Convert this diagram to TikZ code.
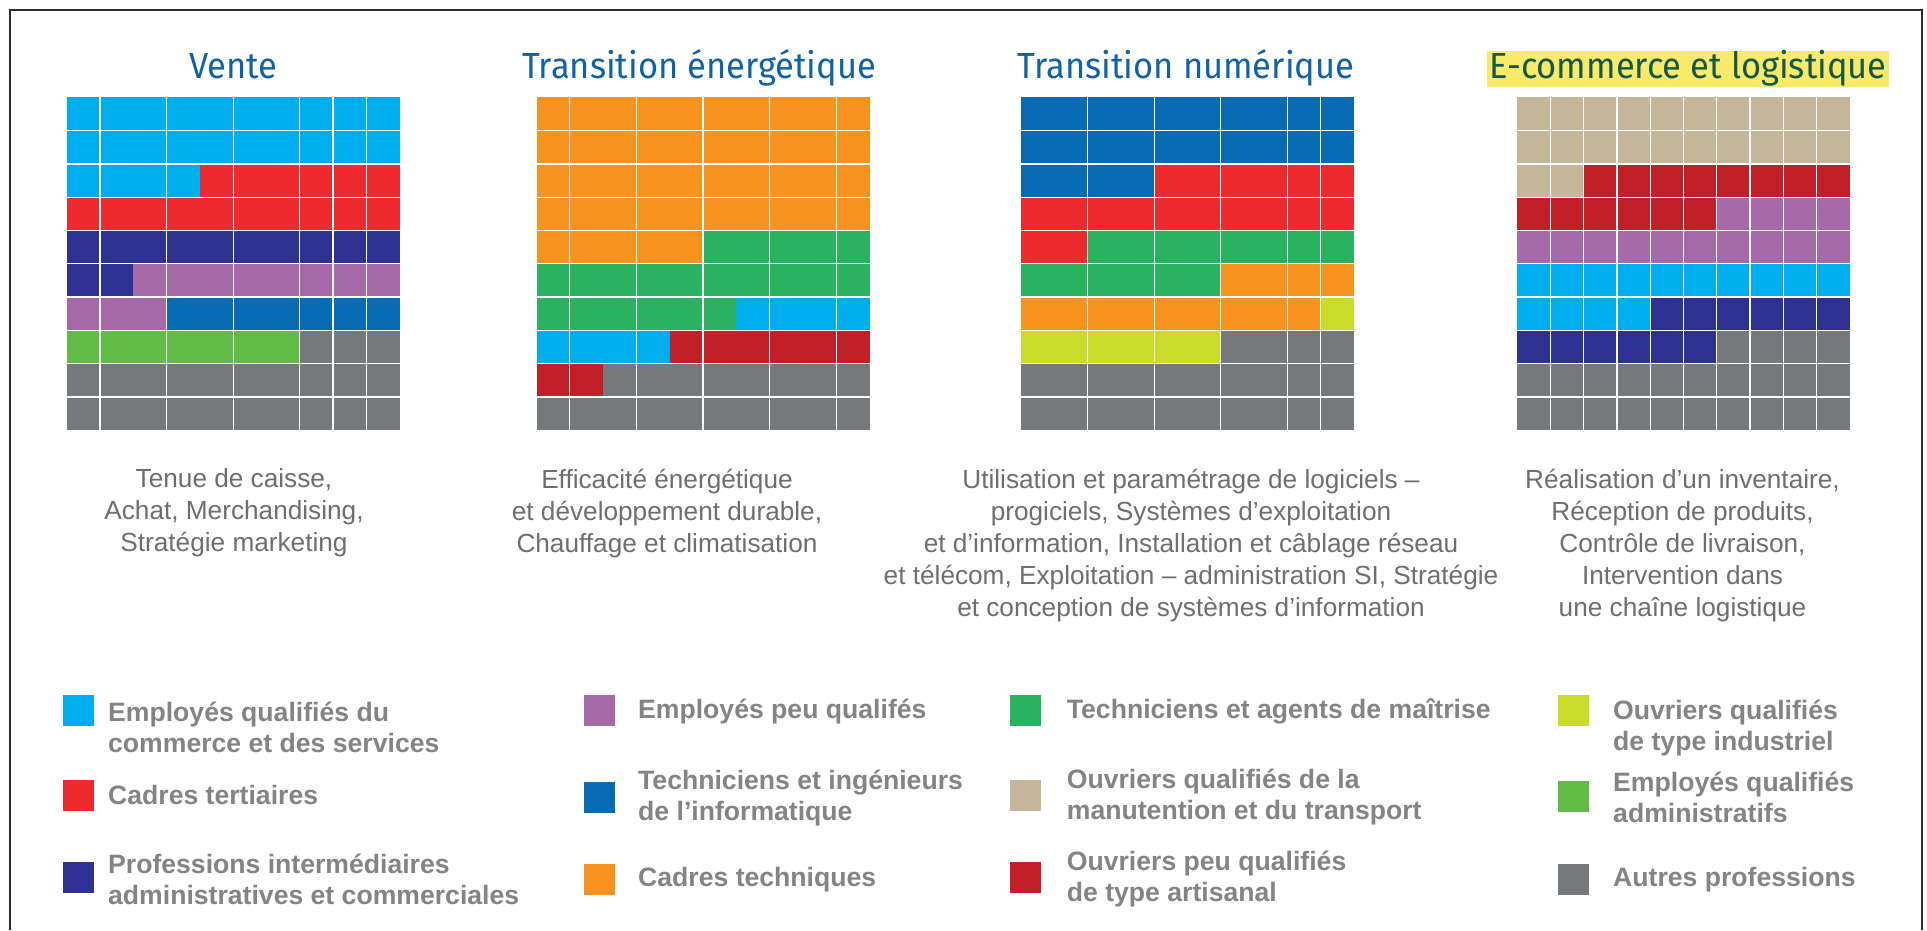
\documentclass[tikz,border=0pt]{standalone}
\usepackage{fontspec}
\newfontfamily\titlefont[FakeStretch=0.95]{Fira Sans}
\newfontfamily\descfont{Liberation Sans}
\definecolor{ccyan}{RGB}{0,174,239}
\definecolor{cred}{RGB}{237,42,46}
\definecolor{cnavy}{RGB}{46,49,146}
\definecolor{cpurple}{RGB}{166,106,168}
\definecolor{cblue}{RGB}{8,108,180}
\definecolor{corange}{RGB}{247,146,30}
\definecolor{cgreen}{RGB}{41,178,95}
\definecolor{clime}{RGB}{203,219,42}
\definecolor{clgreen}{RGB}{98,187,71}
\definecolor{cgray}{RGB}{118,121,124}
\definecolor{cbeige}{RGB}{196,182,155}
\definecolor{cdred}{RGB}{193,32,40}
\definecolor{titleblue}{RGB}{16,98,168}
\definecolor{titleteal}{RGB}{20,88,72}
\definecolor{hlyellow}{RGB}{250,234,105}
\definecolor{descgray}{RGB}{110,110,112}
\definecolor{leggray}{RGB}{132,132,134}
\definecolor{framecol}{RGB}{45,45,45}
\begin{document}
\begin{tikzpicture}[x=1pt,y=-1pt,
  gridline/.style={white,line width=1.3pt},
  title/.style={anchor=base,inner sep=0pt,font=\titlefont\fontsize{36.3}{40}\selectfont,text=titleblue},
  desc/.style={anchor=north,inner sep=0pt,align=center,font=\descfont\fontsize{26.2}{32}\selectfont,text=descgray},
  legsq/.style={anchor=north west,inner sep=0pt,minimum width=31pt,minimum height=31pt},
  legtxt/.style={anchor=west,inner sep=0pt,align=left,font=\descfont\bfseries\fontsize{26.6}{31}\selectfont,text=leggray}]
\useasboundingbox (0,0) rectangle (1927,930);
\fill[white] (0,0) rectangle (1927,930);
\draw[framecol,line width=2pt] (10,930) -- (10,10) -- (1922,10) -- (1922,930);

% ---- Grid 1: Vente
\begin{scope}[shift={(66.7,97.3)},x=33.3pt,y=-33.3pt]
  \fill[ccyan] (0,0) rectangle (10,2);
  \fill[ccyan] (0,2) rectangle (4,3);
  \fill[cred] (4,2) rectangle (10,3);
  \fill[cred] (0,3) rectangle (10,4);
  \fill[cnavy] (0,4) rectangle (10,5);
  \fill[cnavy] (0,5) rectangle (2,6);
  \fill[cpurple] (2,5) rectangle (10,6);
  \fill[cpurple] (0,6) rectangle (3,7);
  \fill[cblue] (3,6) rectangle (10,7);
  \fill[clgreen] (0,7) rectangle (7,8);
  \fill[cgray] (7,7) rectangle (10,8);
  \fill[cgray] (0,8) rectangle (10,10);
  \foreach \r in {1,...,9} \draw[gridline] (0,\r) -- (10,\r);
  \foreach \c in {1,3,5,7,8,9} \draw[gridline] (\c,0) -- (\c,10);
\end{scope}

% ---- Grid 2: Transition energetique
\begin{scope}[shift={(536.5,97.3)},x=33.3pt,y=-33.3pt]
  \fill[corange] (0,0) rectangle (10,4);
  \fill[corange] (0,4) rectangle (5,5);
  \fill[cgreen] (5,4) rectangle (10,5);
  \fill[cgreen] (0,5) rectangle (10,6);
  \fill[cgreen] (0,6) rectangle (6,7);
  \fill[ccyan] (6,6) rectangle (10,7);
  \fill[ccyan] (0,7) rectangle (4,8);
  \fill[cdred] (4,7) rectangle (10,8);
  \fill[cdred] (0,8) rectangle (2,9);
  \fill[cgray] (2,8) rectangle (10,9);
  \fill[cgray] (0,9) rectangle (10,10);
  \foreach \r in {1,...,9} \draw[gridline] (0,\r) -- (10,\r);
  \foreach \c in {1,3,5,7,9} \draw[gridline] (\c,0) -- (\c,10);
\end{scope}

% ---- Grid 3: Transition numerique
\begin{scope}[shift={(1021,97.3)},x=33.3pt,y=-33.3pt]
  \fill[cblue] (0,0) rectangle (10,2);
  \fill[cblue] (0,2) rectangle (4,3);
  \fill[cred] (4,2) rectangle (10,3);
  \fill[cred] (0,3) rectangle (10,4);
  \fill[cred] (0,4) rectangle (2,5);
  \fill[cgreen] (2,4) rectangle (10,5);
  \fill[cgreen] (0,5) rectangle (6,6);
  \fill[corange] (6,5) rectangle (10,6);
  \fill[corange] (0,6) rectangle (9,7);
  \fill[clime] (9,6) rectangle (10,7);
  \fill[clime] (0,7) rectangle (6,8);
  \fill[cgray] (6,7) rectangle (10,8);
  \fill[cgray] (0,8) rectangle (10,10);
  \foreach \r in {1,...,9} \draw[gridline] (0,\r) -- (10,\r);
  \foreach \c in {2,4,6,8,9} \draw[gridline] (\c,0) -- (\c,10);
\end{scope}

% ---- Grid 4: E-commerce et logistique
\begin{scope}[shift={(1517,97.3)},x=33.3pt,y=-33.3pt]
  \fill[cbeige] (0,0) rectangle (10,2);
  \fill[cbeige] (0,2) rectangle (2,3);
  \fill[cdred] (2,2) rectangle (10,3);
  \fill[cdred] (0,3) rectangle (6,4);
  \fill[cpurple] (6,3) rectangle (10,4);
  \fill[cpurple] (0,4) rectangle (10,5);
  \fill[ccyan] (0,5) rectangle (10,6);
  \fill[ccyan] (0,6) rectangle (4,7);
  \fill[cnavy] (4,6) rectangle (10,7);
  \fill[cnavy] (0,7) rectangle (6,8);
  \fill[cgray] (6,7) rectangle (10,8);
  \fill[cgray] (0,8) rectangle (10,10);
  \foreach \r in {1,...,9} \draw[gridline] (0,\r) -- (10,\r);
  \foreach \c in {1,...,9} \draw[gridline] (\c,0) -- (\c,10);
\end{scope}

% ---- Titles
\node[title] (t1) at (233.5,78.3) {Vente};
\node[title] (t2) at (699,78.3) {Transition énergétique};
\node[title] (t3) at (1186,78.3) {Transition numérique};
\node[title,text=titleteal,fill=hlyellow,inner xsep=2pt,text height=27pt,text depth=9pt] (t4) at (1688,78.3) {E-commerce et logistique};

% ---- Descriptions
\node[desc] (d1) at (234,468.5) {Tenue de caisse,\\Achat, Merchandising,\\Stratégie marketing};
\node[desc] (d2) at (667,468.5) {Efficacité énergétique\\et développement durable,\\Chauffage et climatisation};
\node[desc] (d3) at (1191,468.5) {Utilisation et paramétrage de logiciels –\\progiciels, Systèmes d’exploitation\\et d’information, Installation et câblage réseau\\et télécom, Exploitation – administration SI, Stratégie\\et conception de systèmes d’information};
\node[desc] (d4) at (1682.5,468.5) {Réalisation d’un inventaire,\\Réception de produits,\\Contrôle de livraison,\\Intervention dans\\une chaîne logistique};

% ---- Legend column 1
\node[legsq,fill=ccyan] (s1) at (62.7,695) {};
\node[legtxt] (l1) at (108,727.5) {Employés qualifiés du\\commerce et des services};
\node[legsq,fill=cred] (s2) at (62.7,780) {};
\node[legtxt] (l2) at (108,794.5) {Cadres tertiaires};
\node[legsq,fill=cnavy] (s3) at (62.7,862) {};
\node[legtxt] (l3) at (108,879.5) {Professions intermédiaires\\administratives et commerciales};
% ---- Legend column 2
\node[legsq,fill=cpurple] (s4) at (584,695) {};
\node[legtxt] (l4) at (638,711) {Employés peu qualifés};
\node[legsq,fill=cblue] (s5) at (584,782) {};
\node[legtxt] (l5) at (638,798) {Techniciens et ingénieurs\\de l’informatique};
\node[legsq,fill=corange] (s6) at (584,864) {};
\node[legtxt] (l6) at (638,880) {Cadres techniques};
% ---- Legend column 3
\node[legsq,fill=cgreen] (s7) at (1009.5,695) {};
\node[legtxt] (l7) at (1066.7,711) {Techniciens et agents de maîtrise};
\node[legsq,fill=cbeige] (s8) at (1009.5,780) {};
\node[legtxt] (l8) at (1066.7,796.5) {Ouvriers qualifiés de la\\manutention et du transport};
\node[legsq,fill=cdred] (s9) at (1009.5,862) {};
\node[legtxt] (l9) at (1066.7,879) {Ouvriers peu qualifiés\\de type artisanal};
% ---- Legend column 4
\node[legsq,fill=clime] (s10) at (1558,695) {};
\node[legtxt] (l10) at (1613,727.5) {Ouvriers qualifiés\\de type industriel};
\node[legsq,fill=clgreen] (s11) at (1558,781) {};
\node[legtxt] (l11) at (1613,797) {Employés qualifiés\\administratifs};
\node[legsq,fill=cgray] (s12) at (1558,864) {};
\node[legtxt] (l12) at (1613,880) {Autres professions};
\end{tikzpicture}
\end{document}
